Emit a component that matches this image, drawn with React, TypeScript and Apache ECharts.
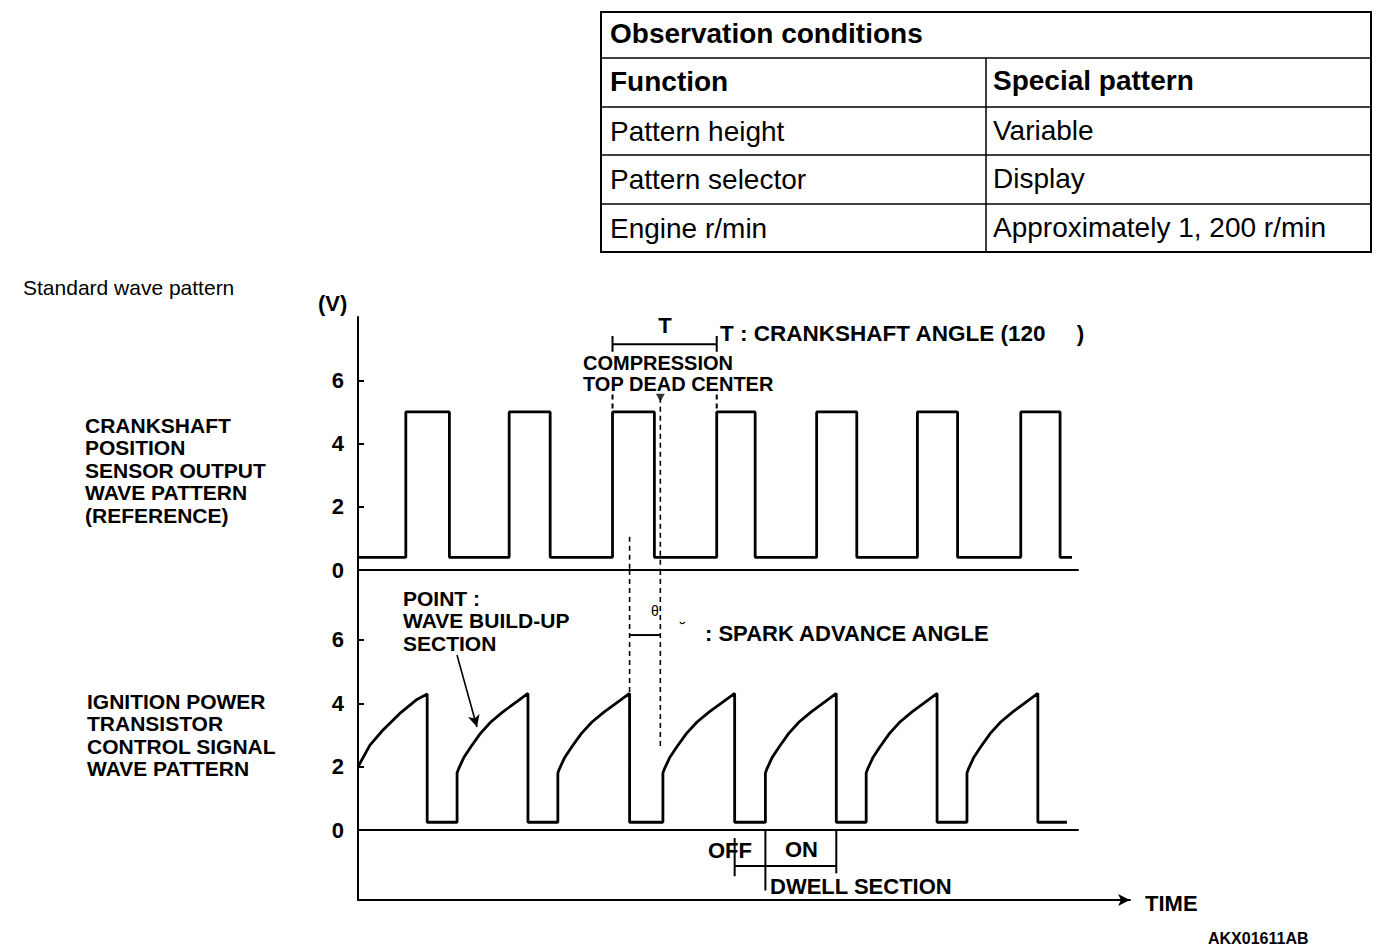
import React, { useEffect, useRef } from "react";
import * as echarts from "echarts";

// ---- data (crank angle in degrees, voltage in V) ----
const yTicks = [0, 2, 4, 6];
const crankRise = [56, 177, 298, 420, 537, 655, 776];
const crankFall = [107, 225, 347, 465, 584, 702, 822];
const crankLevels = [0.4, 5.0]; // low, high
const crankEnd = 836;

// ignition power transistor signal
const firstCurveAngles = [0, 14, 29, 49, 68, 81];
const firstCurveVolts = [2.0, 2.68, 3.15, 3.68, 4.1, 4.29];
const coilOnStart = [116, 234, 357, 477, 595, 713];
const coilOff = [81, 199, 318, 441, 560, 678, 796];
const coilLow = 0.25;
const coilEnd = 830;
const buildUpOffset = [0, 2, 8, 16, 27, 39, 53, 66, 82];
const buildUpVolts = [1.8, 1.95, 2.3, 2.63, 3.05, 3.41, 3.73, 3.99, 4.31];

const tdcAngle = 354;
const tdcMarkVolts = 5.45;

const tableRows = [
  ["Pattern height", "Variable"],
  ["Pattern selector", "Display"],
  ["Engine r/min", "Approximately 1, 200 r/min"],
];

const FONT = '"Liberation Sans", Arial, Helvetica, sans-serif';

function buildCrank() {
  const pts: number[][] = [[0, crankLevels[0]]];
  crankRise.forEach((r, i) => {
    pts.push([r, crankLevels[0]], [r, crankLevels[1]], [crankFall[i], crankLevels[1]], [crankFall[i], crankLevels[0]]);
  });
  pts.push([crankEnd, crankLevels[0]]);
  return pts;
}

function buildCoil() {
  const pts: number[][] = firstCurveAngles.map((a, k) => [a, firstCurveVolts[k]]);
  pts.push([coilOff[0], coilLow]);
  const span = buildUpOffset[buildUpOffset.length - 1];
  coilOnStart.forEach((s, i) => {
    const e = coilOff[i + 1];
    pts.push([s, coilLow]);
    buildUpOffset.forEach((o, k) => pts.push([s + (o * (e - s)) / span, buildUpVolts[k]]));
    pts.push([e, coilLow]);
  });
  pts.push([coilEnd, coilLow]);
  return pts;
}

function seg(grid: number, pts: number[][], dashed = false, width = 2) {
  return {
    type: "line",
    xAxisIndex: grid,
    yAxisIndex: grid,
    data: pts,
    symbol: "none",
    silent: true,
    lineStyle: { color: "#000", width, type: dashed ? [5, 4] : "solid" },
  };
}

function txt(text: string, x: number, y: number, size = 21, weight: any = "bold", align = "left") {
  return {
    type: "text",
    x,
    y,
    silent: true,
    style: { text, fill: "#000", fontSize: size, fontWeight: weight, fontFamily: FONT, verticalAlign: "middle", align },
  };
}

function ln(x1: number, y1: number, x2: number, y2: number, w = 2) {
  return { type: "line", silent: true, shape: { x1, y1, x2, y2 }, style: { stroke: "#000", lineWidth: w } };
}

export default function App() {
  const ref = useRef<HTMLDivElement>(null);
  useEffect(() => {
    const chart = echarts.init(ref.current!, null, { renderer: "svg" });
    const axisLabel = { color: "#000", fontSize: 22, fontWeight: "bold", fontFamily: FONT, margin: 14, customValues: yTicks };
    const axisTick = { show: true, inside: true, length: 6, lineStyle: { color: "#000", width: 2 }, customValues: yTicks };
    const hiddenX = {
      type: "value",
      min: 0,
      max: 843,
      axisTick: { show: false },
      axisLabel: { show: false },
      splitLine: { show: false },
    };

    const tableX0 = 601, tableX1 = 1371, colX = 986;
    const rowY = [12, 58, 107, 155, 204, 252];
    const graphic: any[] = [
      { type: "rect", silent: true, shape: { x: tableX0, y: rowY[0], width: tableX1 - tableX0, height: rowY[5] - rowY[0] }, style: { fill: "none", stroke: "#000", lineWidth: 2 } },
      ...rowY.slice(1, 5).map((y) => ln(tableX0, y, tableX1, y, 1.5)),
      ln(colX, rowY[1], colX, rowY[5], 1.5),
      txt("Observation conditions", 610, 33, 28, "bold"),
      txt("Function", 610, 81, 28, "bold"),
      txt("Special pattern", 993, 80, 28, "bold"),
      ...tableRows.flatMap((r, i) => [
        txt(r[0], 610, (rowY[i + 2] + rowY[i + 3]) / 2, 28, "normal"),
        txt(r[1], 993, (rowY[i + 2] + rowY[i + 3]) / 2 - 1, 28, "normal"),
      ]),
      txt("Standard wave pattern", 23, 287, 21, "normal"),
      txt("(V)", 318, 303, 22, "bold"),
      ...["CRANKSHAFT", "POSITION", "SENSOR OUTPUT", "WAVE PATTERN", "(REFERENCE)"].map((t, i) => txt(t, 85, 425 + i * 22.5)),
      ...["IGNITION POWER", "TRANSISTOR", "CONTROL SIGNAL", "WAVE PATTERN"].map((t, i) => txt(t, 87, 701 + i * 22.5)),
      txt("T", 665, 325, 22, "bold", "center"),
      txt("T : CRANKSHAFT ANGLE (120     )", 720, 333, 22.5),
      txt("COMPRESSION", 583, 362.5, 20),
      txt("TOP DEAD CENTER", 583, 383.5, 20),
      txt("POINT :", 403, 598),
      txt("WAVE BUILD-UP", 403, 620.5),
      txt("SECTION", 403, 643),
      txt("θ", 651, 611, 14, "normal"),
      txt("˘", 680, 628, 16, "bold"),
      txt(": SPARK ADVANCE ANGLE", 705, 633, 22),
      txt("OFF", 708, 850, 22),
      txt("ON", 785, 849, 22),
      txt("DWELL SECTION", 770, 886, 22),
      txt("TIME", 1145, 903, 22),
      txt("AKX01611AB", 1208, 938, 16, "bold"),
    ];

    const option: any = {
      animation: false,
      backgroundColor: "#fff",
      grid: [
        { left: 358, top: 317, width: 720, height: 253 },
        { left: 358, top: 570, width: 720, height: 330 },
        { left: 358, top: 899, width: 772, height: 1 },
      ],
      xAxis: [
        { ...hiddenX, gridIndex: 0, axisLine: { show: true, onZero: true, lineStyle: { color: "#000", width: 2 } } },
        { ...hiddenX, gridIndex: 1, axisLine: { show: true, onZero: true, lineStyle: { color: "#000", width: 2 } } },
        {
          ...hiddenX,
          gridIndex: 2,
          max: 904,
          axisLine: { show: true, onZero: false, symbol: ["none", "arrow"], symbolSize: [9, 12], lineStyle: { color: "#000", width: 2 } },
        },
      ],
      yAxis: [
        {
          type: "value", gridIndex: 0, min: 0, max: 8, interval: 2,
          axisLine: { show: true, onZero: false, lineStyle: { color: "#000", width: 2 } },
          axisTick, axisLabel, splitLine: { show: false },
        },
        {
          type: "value", gridIndex: 1, min: -2.2, max: 8.2,
          axisLine: { show: true, onZero: false, lineStyle: { color: "#000", width: 2 } },
          axisTick, axisLabel, splitLine: { show: false },
        },
        { type: "value", gridIndex: 2, min: 0, max: 1, show: false },
      ],
      series: [
        seg(0, buildCrank(), false, 2.8),
        seg(1, buildCoil(), false, 2.8),
        // T bracket
        seg(0, [[crankRise[2], 7.14], [crankRise[3], 7.14]], false, 2),
        seg(0, [[crankRise[2], 6.9], [crankRise[2], 7.4]], false, 2),
        seg(0, [[crankRise[3], 6.9], [crankRise[3], 7.4]], false, 2),
        seg(0, [[crankRise[2], 5.55], [crankRise[2], 5.05]], true, 2),
        seg(0, [[crankRise[3], 5.55], [crankRise[3], 5.05]], true, 2),
        // TDC line
        seg(0, [[tdcAngle, tdcMarkVolts], [tdcAngle, 0]], true, 1.6),
        seg(1, [[tdcAngle, 8.2], [tdcAngle, 2.6]], true, 1.6),
        // spark line
        seg(0, [[coilOff[2], 1.05], [coilOff[2], 0]], true, 1.6),
        seg(1, [[coilOff[2], 8.2], [coilOff[2], coilLow]], true, 1.6),
        // spark advance angle bar
        seg(1, [[coilOff[2], 6.15], [tdcAngle, 6.15]], false, 2),
        // dwell bracket
        seg(1, [[coilOff[3], -0.25], [coilOff[3], -1.45]], false, 2),
        seg(1, [[coilOnStart[3], 0], [coilOnStart[3], -1.9]], false, 2),
        seg(1, [[coilOff[4], 0], [coilOff[4], -1.36]], false, 2),
        seg(1, [[coilOff[3], -1.13], [coilOff[4], -1.13]], false, 2),
        {
          type: "scatter",
          xAxisIndex: 0,
          yAxisIndex: 0,
          data: [[tdcAngle, tdcMarkVolts]],
          symbol: "triangle",
          symbolRotate: 180,
          symbolSize: [9, 8],
          itemStyle: { color: "#000" },
          silent: true,
        },
        {
          type: "line",
          xAxisIndex: 1,
          yAxisIndex: 1,
          data: [],
          markLine: {
            silent: true,
            symbol: ["none", "arrow"],
            symbolSize: [9, 12],
            label: { show: false },
            lineStyle: { color: "#000", width: 1.6, type: "solid" },
            data: [[{ coord: [115.9, 5.52] }, { coord: [139.3, 3.25] }]],
          },
        },
      ],
      graphic,
    };
    chart.setOption(option);
    return () => chart.dispose();
  }, []);
  return (
    <div
      ref={ref}
      style={{ position: "fixed", left: 0, top: 0, width: 1392, height: 948, background: "#fff" }}
    />
  );
}
